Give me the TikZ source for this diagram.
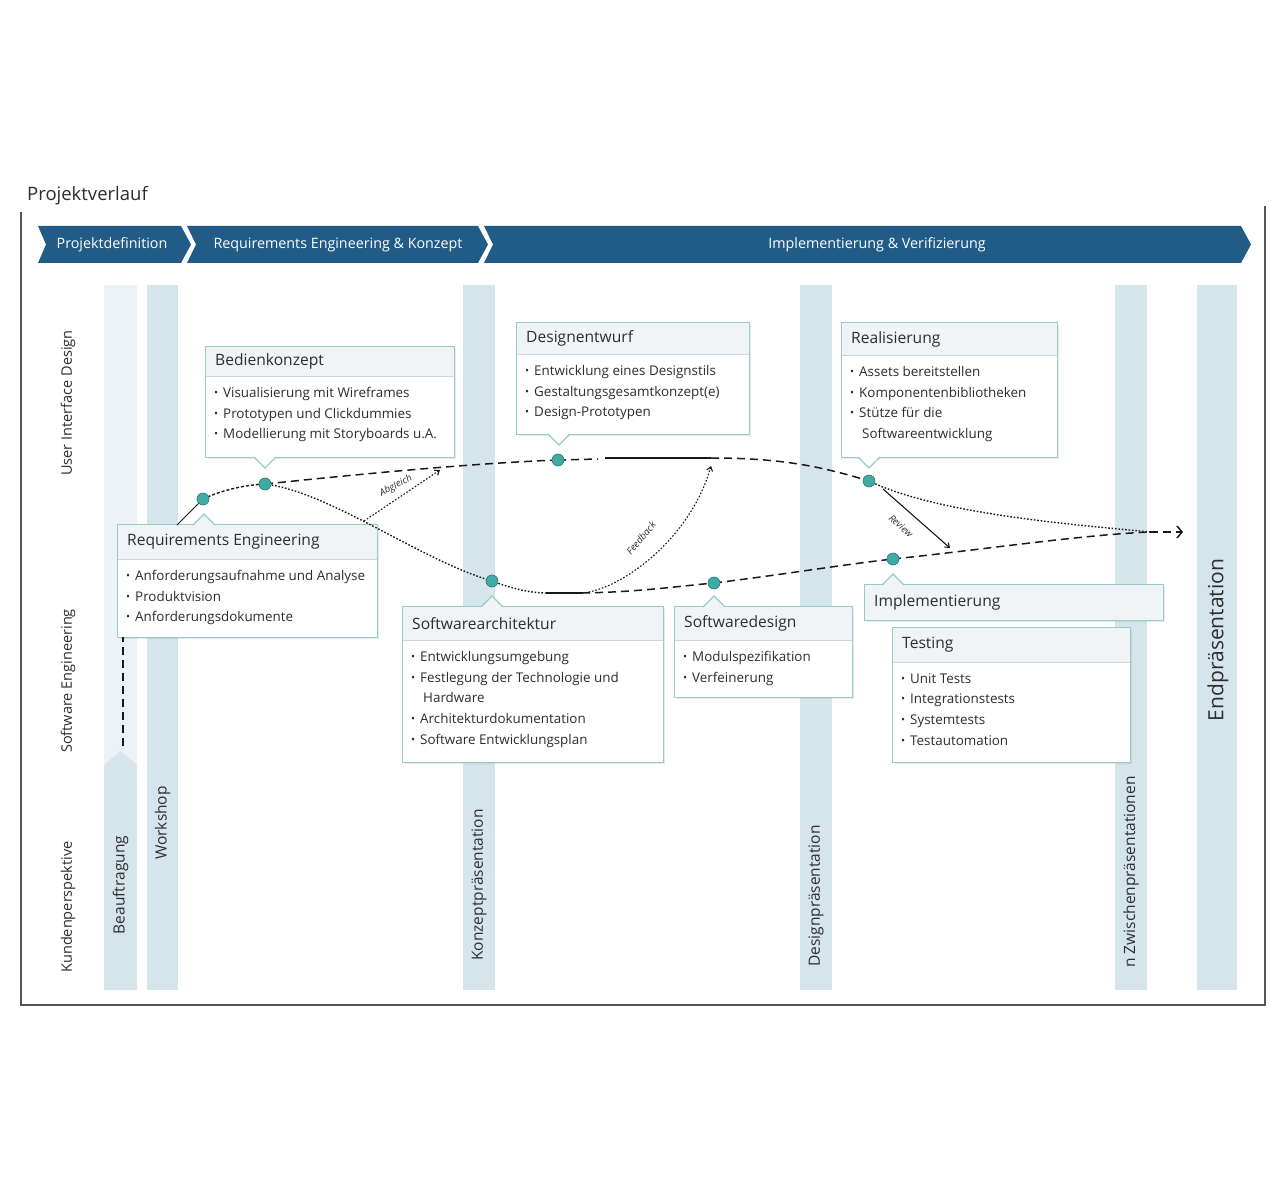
\documentclass[tikz,border=0pt]{standalone}
\usepackage{fontspec}
\setmainfont{Open Sans}
\usetikzlibrary{arrows.meta,shadows,fit,calc}
\definecolor{hdr}{RGB}{33,92,135}
\definecolor{barc}{RGB}{214,228,235}
\definecolor{barlight}{RGB}{236,242,245}
\definecolor{bxline}{RGB}{150,204,200}
\definecolor{bxhead}{RGB}{240,244,246}
\definecolor{sepc}{RGB}{205,214,218}
\definecolor{dotc}{RGB}{64,170,165}
\definecolor{dotline}{RGB}{40,120,118}
\definecolor{framec}{RGB}{85,85,85}
\definecolor{txt}{RGB}{45,45,45}
\definecolor{linec}{RGB}{25,25,25}
\newcommand\bi{\raisebox{1pt}{\scalebox{0.8}{\textbullet}}\hspace{5pt}}
\newcommand\bc{\hspace*{12pt}}
\tikzset{
  chevtxt/.style={text=white,font=\fontsize{14.3}{16}\selectfont,inner sep=0pt},
  bartxt/.style={rotate=90,text=txt,font=\fontsize{15.5}{17}\selectfont,inner sep=0pt},
  lanetxt/.style={rotate=90,text=txt,font=\fontsize{14.5}{16}\selectfont,inner sep=0pt},
  boxbg/.style={fill=white,inner sep=0pt,drop shadow={opacity=0.16,shadow xshift=2pt,shadow yshift=-2pt}},
  bxborder/.style={draw=bxline,line width=1.2pt},
  sepline/.style={draw=sepc,line width=0.8pt},
  boxtitle/.style={anchor=west,text=txt,font=\fontsize{15.6}{18}\selectfont,inner sep=0pt},
  boxbody/.style={anchor=north west,text=txt,font=\fontsize{13.4}{20.7}\selectfont,align=left,inner sep=0pt},
  pdot/.style={circle,fill=dotc,draw=dotline,line width=0.6pt,minimum size=12pt,inner sep=0pt},
  longdash/.style={draw=linec,dash pattern=on 8pt off 5pt,line width=1.5pt},
  shortdash/.style={draw=linec,dash pattern=on 3pt off 2pt,line width=1.4pt},
  dotl/.style={draw=linec,dash pattern=on 1.6pt off 1.8pt,line width=1.4pt},
  solidl/.style={draw=linec,line width=1.5pt},
  framel/.style={draw=framec,line width=1.6pt},
  alabel/.style={text=txt,font=\itshape\fontsize{9.5}{10}\selectfont,inner sep=0pt},
  tipa/.style={-{Straight Barb[length=4pt,width=6pt]}}
}
% name, x1, y1, x2, y2, header bottom, title, body
\newcommand\ibox[8]{%
  \node[boxbg,fit={(#2,#3)(#4,#5)}] (#1) {};
  \fill[bxhead] (#2,#3) rectangle (#4,#6);
  \draw[sepline] (#2,#6) -- (#4,#6);
  \draw[bxborder] (#1.north west) rectangle (#1.south east);
  \node[boxtitle] (#1-t) at (#2+9,{(#3+#6)/2}) {#7};
  \node[boxbody] (#1-b) at (#2+8,#6+11) {#8};
}
% pointer down: x, y(bottom)
\newcommand\pdown[2]{%
  \fill[white] (#1-11,#2-1) -- (#1,#2+11) -- (#1+11,#2-1) -- cycle;
  \draw[bxborder] (#1-11,#2) -- (#1,#2+11) -- (#1+11,#2);
}
% pointer up: x, y(top)
\newcommand\pup[2]{%
  \fill[bxhead] (#1-11,#2+1) -- (#1,#2-11) -- (#1+11,#2+1) -- cycle;
  \draw[bxborder] (#1-11,#2) -- (#1,#2-11) -- (#1+11,#2);
}
\begin{document}
\begin{tikzpicture}[x=1pt,y=-1pt]
\useasboundingbox (0,0) rectangle (1280,1190);
\fill[white] (0,0) rectangle (1280,1190);

% title and frame
\node[anchor=west,font=\fontsize{18.5}{20}\selectfont,text=txt,inner sep=0pt] (title) at (27,196) {Projektverlauf};
\draw[framel] (21,212) -- (21,1005) -- (1265,1005) -- (1265,206);

% header chevrons
\fill[hdr] (38,226) -- (181,226) -- (191,244.5) -- (181,263) -- (38,263) -- (46,244.5) -- cycle;
\fill[hdr] (187,226) -- (478,226) -- (488,244.5) -- (478,263) -- (187,263) -- (196,244.5) -- cycle;
\fill[hdr] (484,226) -- (1241,226) -- (1251,244.5) -- (1241,263) -- (484,263) -- (493,244.5) -- cycle;
\node[chevtxt] (h1) at (112,244.5) {Projektdefinition};
\node[chevtxt] (h2) at (338,244.5) {Requirements Engineering \& Konzept};
\node[chevtxt] (h3) at (877,244.5) {Implementierung \& Verifizierung};

% lane labels
\node[lanetxt] (l1) at (68,403) {User Interface Design};
\node[lanetxt] (l2) at (68,681) {Software Engineering};
\node[lanetxt] (l3) at (68,907) {Kundenperspektive};

% vertical bars
\fill[barlight] (104,285) rectangle (137,990);
\fill[barc] (104,990) -- (104,765) -- (120.5,751) -- (137,765) -- (137,990) -- cycle;
\fill[barc] (147,285) rectangle (178,990);
\fill[barc] (463,285) rectangle (495,990);
\fill[barc] (800,285) rectangle (832,990);
\fill[barc] (1115,285) rectangle (1147,990);
\fill[barc] (1197,285) rectangle (1237,990);
\node[bartxt] (b1) at (120.5,885) {Beauftragung};
\node[bartxt] (b2) at (162.5,823) {Workshop};
\node[bartxt] (b3) at (479,885) {Konzeptpräsentation};
\node[bartxt] (b4) at (816,896) {Designpräsentation};
\node[bartxt] (b5) at (1131,872) {n Zwischenpräsentationen};
\node[bartxt,font=\fontsize{21}{23}\selectfont] (b6) at (1218,640) {Endpräsentation};

% boxes
\ibox{bk}{206}{347}{454}{457}{376}{Bedienkonzept}{\bi Visualisierung mit Wireframes\\ \bi Prototypen und Clickdummies\\ \bi Modellierung mit Storyboards u.A.}
\pdown{265}{457}
\ibox{de}{517}{323}{749}{434}{354}{Designentwurf}{\bi Entwicklung eines Designstils\\ \bi Gestaltungsgesamtkonzept(e)\\ \bi Design-Prototypen}
\pdown{559}{434}
\ibox{rl}{842}{323}{1057}{457}{355}{Realisierung}{\bi Assets bereitstellen\\ \bi Komponentenbibliotheken\\ \bi Stütze für die\\ \bc Softwareentwicklung}
\pdown{869}{457}
\ibox{re}{118}{525}{377}{637}{559}{Requirements Engineering}{\bi Anforderungsaufnahme und Analyse\\ \bi Produktvision\\ \bi Anforderungsdokumente}
\pup{204}{525}
\ibox{sa}{403}{607}{663}{762}{640}{Softwarearchitektur}{\bi Entwicklungsumgebung\\ \bi Festlegung der Technologie und\\ \bc Hardware\\ \bi Architekturdokumentation\\ \bi Software Entwicklungsplan}
\pup{492}{607}
\ibox{sd}{675}{607}{852}{697}{640}{Softwaredesign}{\bi Modulspezifikation\\ \bi Verfeinerung}
\pup{714}{607}
\ibox{te}{893}{628}{1130}{762}{662}{Testing}{\bi Unit Tests\\ \bi Integrationstests\\ \bi Systemtests\\ \bi Testautomation}
\node[boxbg,fit={(865,585)(1163,620)}] (im) {};
\fill[bxhead] (865,585) rectangle (1163,620);
\draw[bxborder] (im.north west) rectangle (im.south east);
\node[boxtitle] (im-t) at (874,602.5) {Implementierung};
\pup{893}{585}

% path points
\coordinate (c1) at (203,499);
\coordinate (c2) at (265,484);
\coordinate (c3) at (558,460);
\coordinate (c4) at (869,481);
\coordinate (c5) at (492,581);
\coordinate (c6) at (714,583);
\coordinate (c7) at (893,559);
\coordinate (m) at (1150,532);
\coordinate (e) at (1183,532);
\coordinate (s1a) at (598,459);
\coordinate (s1b) at (605,458);
\coordinate (s1c) at (711,458);
\coordinate (s2a) at (546,593);
\coordinate (s2b) at (582,593);
\coordinate (bt) at (123,746);
\coordinate (reo) at (177,525);
\coordinate (a1s) at (364,521);
\coordinate (a1e) at (440,470);
\coordinate (a2e) at (711,466);
\coordinate (a3s) at (883,489);
\coordinate (a3e) at (950,548);

% customer link
\draw[longdash,line width=1.2pt] (bt) -- (bt |- re.south);
\draw[draw=linec,line width=1pt] (reo) -- (c1);

% upper path (User Interface Design)
\draw[shortdash] (c1) .. controls (222,490) and (245,485) .. (c2);
\draw[longdash] (c2) .. controls (380,472) and (480,463) .. (c3);
\draw[longdash] (c3) -- (s1a);
\draw[solidl] (s1b) -- (s1c);
\draw[longdash] (s1c) .. controls (780,458) and (820,466) .. (c4);
\draw[dotl] (c4) .. controls (940,515) and (1080,525) .. (m);

% lower path (Software Engineering)
\draw[dotl] (c2) .. controls (330,492) and (420,560) .. (c5);
\draw[dotl] (c5) .. controls (510,588) and (530,593) .. (s2a);
\draw[solidl] (s2a) -- (s2b);
\draw[longdash] (s2b) .. controls (640,592) and (680,586) .. (c6);
\draw[longdash] (c6) .. controls (780,575) and (840,565) .. (c7);
\draw[longdash] (c7) .. controls (980,550) and (1080,535) .. (m);
\draw[longdash,-{Straight Barb[length=5pt,width=12pt]}] (m) -- (e);

% exchange arrows
\draw[dotl,line width=1.1pt,tipa] (a1s) -- (a1e);
\node[alabel,rotate=28] (al1) at (396,486) {Abgleich};
\draw[dotl,line width=1.1pt,tipa] (s2b) .. controls (620,590) and (690,540) .. (a2e);
\node[alabel,rotate=50] (al2) at (641,538) {Feedback};
\draw[draw=linec,line width=1.1pt,tipa] (a3s) -- (a3e);
\node[alabel,rotate=-42] (al3) at (901,526) {Review};

% dots
\foreach \i in {1,...,7} {\node[pdot] (d\i) at (c\i) {};}
\end{tikzpicture}
\end{document}
